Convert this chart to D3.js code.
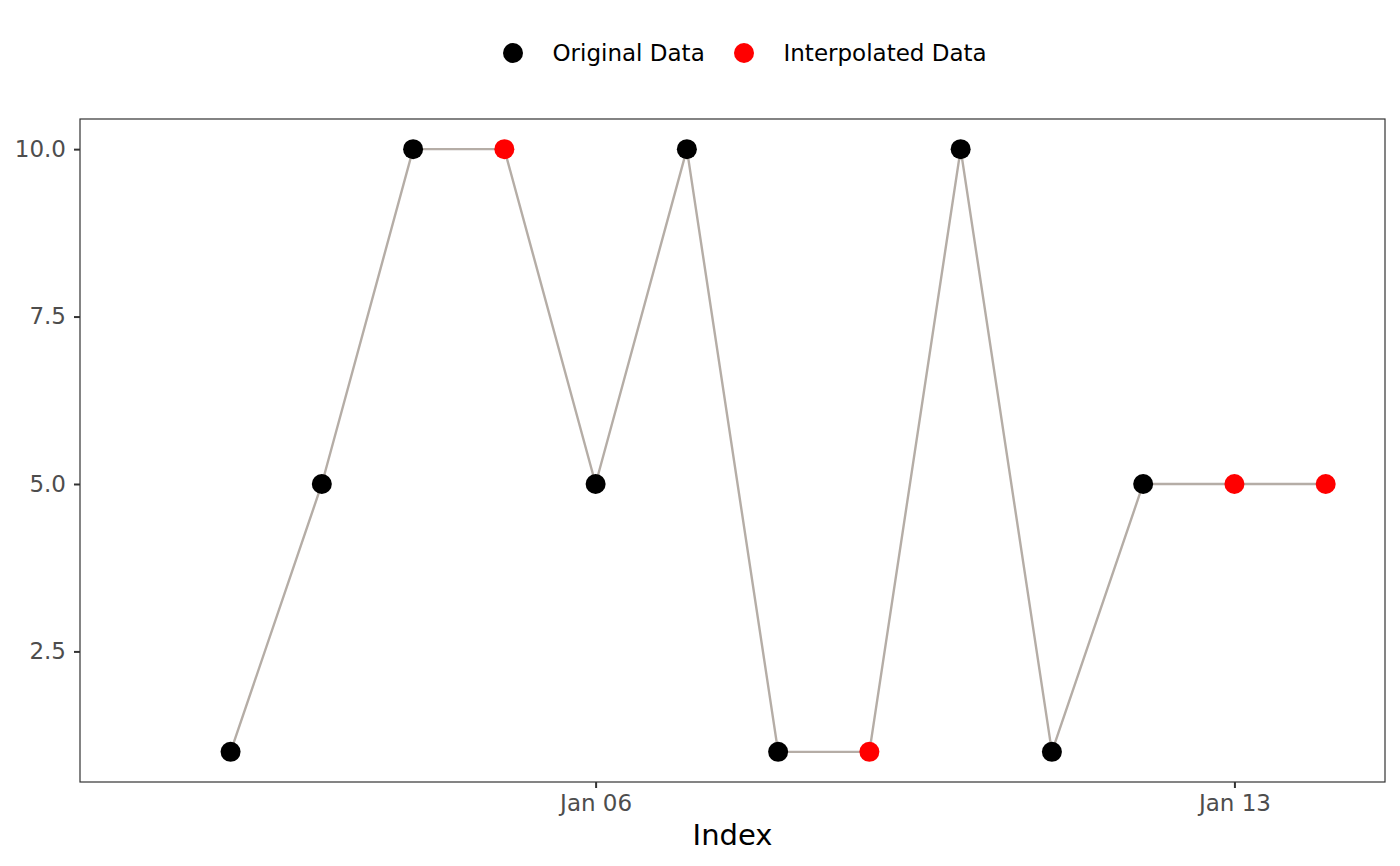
<!DOCTYPE html>
<html><head><meta charset="utf-8">
<script src="https://cdn.jsdelivr.net/npm/d3@7"></script>
<style>body{margin:0;background:#fff;} svg{display:block;font-family:"DejaVu Sans",sans-serif;}</style>
</head><body>
<svg id="c" width="1400" height="866"></svg>
<script>
const dates = ["2024-01-01","2024-01-02","2024-01-03","2024-01-04","2024-01-05","2024-01-06","2024-01-07","2024-01-08","2024-01-09","2024-01-10","2024-01-11","2024-01-12","2024-01-13","2024-01-14"];
const values = [null,1,5,10,10,5,10,1,1,10,1,5,5,5];
const kinds = ["Original","Original","Original","Original","Interpolated","Original","Original","Original","Interpolated","Original","Original","Original","Interpolated","Interpolated"];
const yTicks = [2.5,5.0,7.5,10.0];
const xTicks = ["2024-01-06","2024-01-13"];
const legendLabels = ["Original Data","Interpolated Data"];

const parse = d3.utcParse("%Y-%m-%d");
const data = dates.map((d,i)=>({date:parse(d), value:values[i], kind:kinds[i]}));
const svg = d3.select("#c");
const L=80,R=1385,T=119,B=782;
const x0 = parse(dates[0]).getTime(), x1 = parse(dates[dates.length-1]).getTime();
const xpad = (x1-x0)*0.05;
const x = d3.scaleUtc().domain([new Date(x0-xpad), new Date(x1+xpad)]).range([L,R]);
const vals = values.filter(v=>v!=null);
const ymin=d3.min(vals), ymax=d3.max(vals), ypad=(ymax-ymin)*0.05;
const y = d3.scaleLinear().domain([ymin-ypad, ymax+ypad]).range([B,T]);
const color = {Original:"#000000", Interpolated:"#ff0000"};

svg.append("rect").attr("x",L).attr("y",T).attr("width",R-L).attr("height",B-T).attr("fill","#fff");

const valid = data.filter(d=>d.value!=null);
svg.append("path").datum(valid)
  .attr("d", d3.line().x(d=>x(d.date)).y(d=>y(d.value)))
  .attr("fill","none").attr("stroke","#b5ada6").attr("stroke-width",2.4);

svg.selectAll("circle.pt").data(valid).join("circle").attr("class","pt")
  .attr("cx",d=>x(d.date)).attr("cy",d=>y(d.value)).attr("r",10)
  .attr("fill",d=>color[d.kind]);

svg.append("rect").attr("x",L).attr("y",T).attr("width",R-L).attr("height",B-T)
  .attr("fill","none").attr("stroke","#333").attr("stroke-width",1.2);

const yAxis = svg.append("g").attr("transform",`translate(${L},0)`)
  .call(d3.axisLeft(y).tickValues(yTicks).tickFormat(d3.format(".1f")).tickSize(6).tickPadding(8));
const xAxis = svg.append("g").attr("transform",`translate(0,${B})`)
  .call(d3.axisBottom(x).tickValues(xTicks.map(parse)).tickFormat(d3.utcFormat("%b %d")).tickSize(6).tickPadding(7));
[yAxis,xAxis].forEach(g=>{
  g.select(".domain").remove();
  g.selectAll(".tick line").attr("stroke","#333").attr("stroke-width",2);
  g.selectAll(".tick text").attr("fill","#4d4d4d").style("font-size","23px").style("font-family","DejaVu Sans");
});

svg.append("text").attr("x",(L+R)/2).attr("y",845).attr("text-anchor","middle")
  .style("font-size","29px").attr("fill","#000").text("Index");

const leg = svg.append("g");
const legX = [513,744];
legendLabels.forEach((lab,i)=>{
  leg.append("circle").attr("cx",legX[i]).attr("cy",53).attr("r",10).attr("fill",i===0?color.Original:color.Interpolated);
  leg.append("text").attr("x",legX[i]+39.5).attr("y",53).attr("dy","0.35em").style("font-size","23px").attr("fill","#000").text(lab);
});
</script>
</body></html>
